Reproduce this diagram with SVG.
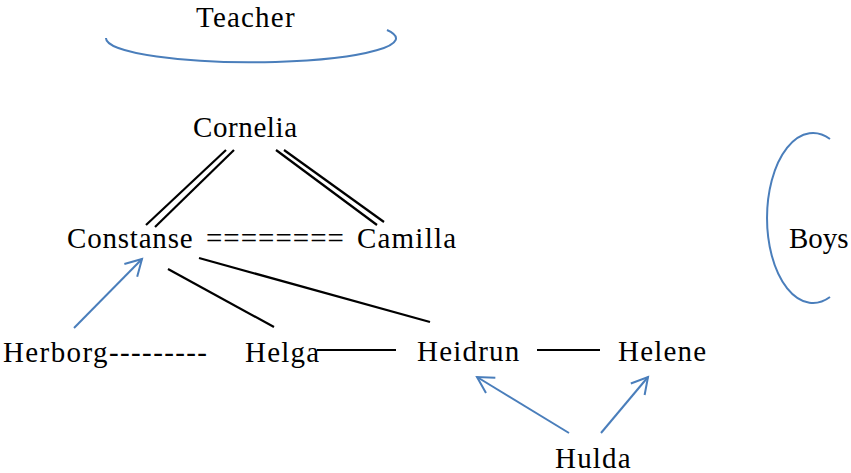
<svg xmlns="http://www.w3.org/2000/svg" width="851" height="473" viewBox="0 0 851 473">
<style>
text{font-family:"Liberation Serif","Times New Roman",serif;font-size:29px;fill:#000;letter-spacing:1.2px}
.k{stroke:#000;stroke-width:2.2;fill:none}
.b{stroke:#4A7EBB;stroke-width:2;fill:none}
</style>
<defs>
<marker id="ah" markerUnits="userSpaceOnUse" viewBox="-20 -12 24 24" refX="0" refY="0" markerWidth="24" markerHeight="24" orient="auto" overflow="visible">
<path d="M-16,-9 L0,0 L-16,9" fill="none" stroke="#4A7EBB" stroke-width="2"/>
</marker>
</defs>
<g id="teacher">
<path class="b" d="M106,38 A145,24 0 1 0 387,30"/>
<text x="196" y="27">Teacher</text>
</g>
<g id="boys">
<path class="b" d="M830,139 A46,85 0 1 0 830,297"/>
<text x="789" y="248" style="letter-spacing:0">Boys</text>
</g>
<g id="cornelia"><text x="193" y="137" style="letter-spacing:0.6px">Cornelia</text></g>
<g id="constanse"><text x="67" y="248" style="letter-spacing:0.8px">Constanse</text></g>
<g id="camilla"><text x="357" y="248">Camilla</text></g>
<g id="herborg"><text x="3" y="362" style="letter-spacing:1.4px">Herborg---------</text></g>
<g id="helga"><text x="245" y="362">Helga</text></g>
<g id="heidrun"><text x="417" y="361">Heidrun</text></g>
<g id="helene"><text x="618" y="361">Helene</text></g>
<g id="hulda"><text x="555" y="468">Hulda</text></g>
<g id="connectors">
<text x="206" y="248" style="letter-spacing:1px">========</text>
<line class="k" x1="226" y1="150" x2="146" y2="225"/>
<line class="k" x1="234" y1="150" x2="155" y2="227"/>
<line class="k" x1="276" y1="150" x2="377" y2="225"/>
<line class="k" x1="284" y1="150" x2="384" y2="222"/>
<line class="k" x1="168" y1="269" x2="274" y2="327"/>
<line class="k" x1="199" y1="258" x2="430" y2="322"/>
<line class="k" x1="317" y1="350" x2="396" y2="350"/>
<line class="k" x1="537" y1="350" x2="600" y2="350"/>
<line class="b" x1="74" y1="328" x2="142" y2="259" marker-end="url(#ah)"/>
<line class="b" x1="569" y1="433" x2="477" y2="377" marker-end="url(#ah)"/>
<line class="b" x1="601" y1="433" x2="648" y2="377" marker-end="url(#ah)"/>
</g>
</svg>
